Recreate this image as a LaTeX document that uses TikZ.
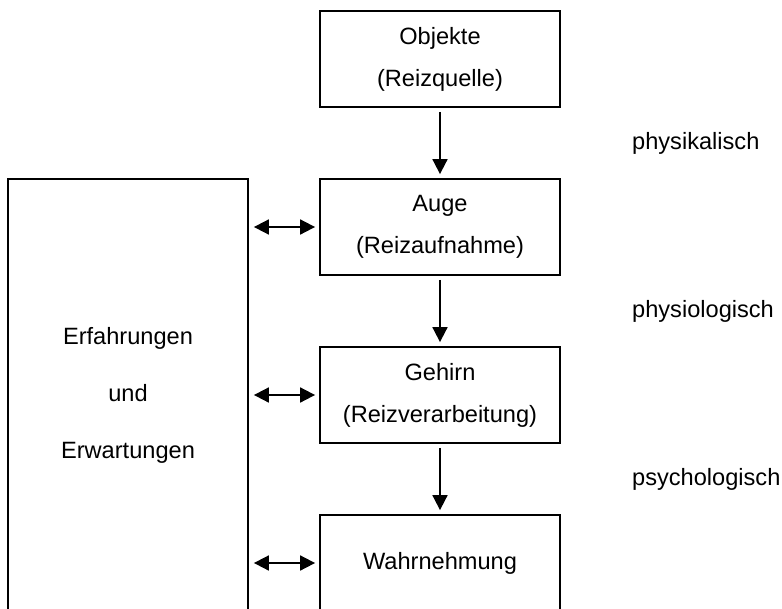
\documentclass[tikz,border=0pt]{standalone}
\usepackage{fontspec}
\setmainfont{Liberation Sans}
\usetikzlibrary{arrows.meta}
\tikzset{
  box/.style={draw, line width=1.8pt, minimum width=240pt, minimum height=96pt, inner sep=0pt, align=center, font=\fontsize{23.6}{42}\selectfont},
  bigbox/.style={box, minimum height=432pt, font=\fontsize{23.6}{57}\selectfont},
  side/.style={anchor=west, inner sep=0pt, font=\fontsize{23.6}{28}\selectfont},
  flow/.style={line width=1.8pt, -{Triangle[length=15pt,width=15pt]}, shorten <=4pt, shorten >=4pt},
  both/.style={line width=1.8pt, {Triangle[length=15pt,width=15pt]}-{Triangle[length=15pt,width=15pt]}, shorten <=5pt, shorten >=4pt}
}
\begin{document}
\begin{tikzpicture}[x=1pt,y=-1pt]
\clip (0,0) rectangle (782,608);
\node[box] (obj) at (440,59) {Objekte\\(Reizquelle)};
\node[box] (auge) at (440,227) {Auge\\(Reizaufnahme)};
\node[box] (hirn) at (440,395) {Gehirn\\(Reizverarbeitung)};
\node[box] (wahr) at (440,563) {Wahrnehmung};
\node[bigbox] (erf) at (128,395) {Erfahrungen\\und\\Erwartungen};
\node[side] (phk) at (632,143) {physikalisch};
\node[side] (phl) at (632,311) {physiologisch};
\node[side] (psy) at (632,479) {psychologisch};
\draw[flow] (obj) -- (auge);
\draw[flow] (auge) -- (hirn);
\draw[flow] (hirn) -- (wahr);
\draw[both] (auge.west -| erf.east) -- (auge.west);
\draw[both] (hirn.west -| erf.east) -- (hirn.west);
\draw[both] (wahr.west -| erf.east) -- (wahr.west);
\end{tikzpicture}
\end{document}
